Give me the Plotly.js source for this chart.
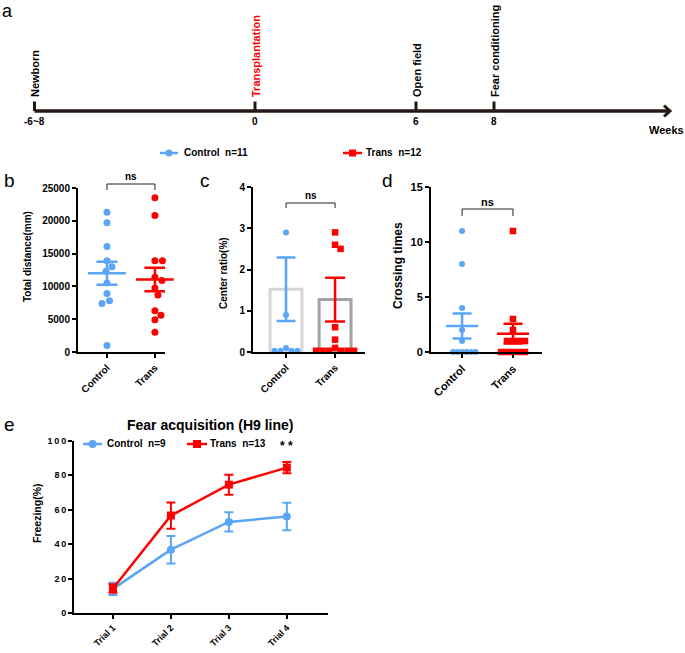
<!DOCTYPE html>
<html><head><meta charset="utf-8">
<script src="https://cdn.plot.ly/plotly-3.0.1.min.js"></script>
<style>html,body{margin:0;padding:0;background:#fff}#chart{width:685px;height:653px}</style>
</head><body><div id="chart"></div>
<script>
// ---------------- DATA ----------------
const groups = ['Control', 'Trans'];
const topLegend = ['Control\u00a0\u00a0n=11', 'Trans\u00a0\u00a0n=12'];
const distControl = [21300, 19700, 16100, 13900, 13000, 12300, 10500, 8900, 7800, 7400, 1000];
const distTrans = [23500, 20800, 13900, 13900, 11400, 10900, 9750, 8700, 6300, 5600, 4900, 3000];
const centerControl = [2.9, 0.9, 0.1, 0.03, 0.03, 0.03, 0.03];
const centerTrans = [2.9, 2.6, 2.5, 0.6, 0.3, 0.1, 0.03, 0.03, 0.03, 0.03, 0.03, 0.03];
const centerMean = [1.52, 1.27];
const centerSem = [0.77, 0.53];
const crossControl = [11, 8, 4, 2, 1, 0, 0, 0, 0, 0, 0];
const crossTrans = [11, 3, 2, 1, 1, 1, 1, 0, 0, 0, 0, 0];
const trials = ['Trial 1', 'Trial 2', 'Trial 3', 'Trial 4'];
const fearControl = [14.0, 36.7, 52.8, 55.9];
const fearControlSem = [3.5, 8.0, 5.6, 8.0];
const fearTrans = [14.2, 56.5, 74.4, 84.3];
const fearTransSem = [2.5, 7.6, 5.8, 3.3];
const fearLegend = ['Control\u00a0\u00a0n=9', 'Trans\u00a0\u00a0n=13'];
const timelineWeeks = ['-6~8', '0', '6', '8'];
const timelineEvents = ['Newborn', 'Transplantation', 'Open field', 'Fear conditioning'];

// ---------------- LAYOUT CONSTANTS ----------------
const W = 685, H = 653;
const fx = p => p / W, fy = p => 1 - p / H;
const FONT = 'Liberation Sans, Arial, Helvetica, sans-serif';
const BLUE = '#5aa5f5', RED = '#ff0000', INK = '#000000';
const f = (size, color, weight) => ({family: FONT, size: size, color: color || INK, weight: weight || 'bold'});

const P = {
  b: {x0: 78, x1: 165, y0: 352, y1: 188, xr: [-0.604, 1.21], yr: [0, 25000]},
  c: {x0: 253, x1: 365, y0: 352, y1: 187, xr: [-0.673, 1.61], yr: [0, 4]},
  d: {x0: 431, x1: 542, y0: 352, y1: 187, xr: [-0.61, 1.57], yr: [0, 15]},
  e: {x0: 74, x1: 328, y0: 613, y1: 440.5, xr: [-0.672, 3.71], yr: [0, 100]}
};
const catPx = (p, v) => p.x0 + (v - p.xr[0]) / (p.xr[1] - p.xr[0]) * (p.x1 - p.x0);
const yPerPx = p => (p.y0 - p.y1) / (p.yr[1] - p.yr[0]);
const xUnitPerPx = p => (p.xr[1] - p.xr[0]) / (p.x1 - p.x0);

// simple beeswarm: horizontal pixel offsets so markers do not overlap
function swarm(vals, pxPerUnit, d) {
  const order = vals.map((v, i) => i).sort((a, b) => vals[b] - vals[a]);
  const placed = [], off = new Array(vals.length).fill(0);
  order.forEach(i => {
    const y = vals[i] * pxPerUnit;
    let best = 0;
    for (let k = 0; k < 600; k++) {
      const cand = (k % 2 === 0 ? -1 : 1) * Math.ceil(k / 2) * 0.5;
      if (placed.every(q => (q.x - cand) ** 2 + (q.y - y) ** 2 >= d * d - 0.01)) { best = cand; break; }
    }
    off[i] = best; placed.push({x: best, y: y});
  });
  return off;
}
const mean = a => a.reduce((s, v) => s + v, 0) / a.length;
const sem = a => { const m = mean(a); return Math.sqrt(a.reduce((s, v) => s + (v - m) ** 2, 0) / (a.length - 1)) / Math.sqrt(a.length); };

function pointTrace(p, vals, gi, color, symbol, size, d, xa, ya) {
  const off = swarm(vals, yPerPx(p), d);
  return {type: 'scatter', mode: 'markers', x: vals.map((v, i) => gi + off[i] * xUnitPerPx(p)), y: vals,
    marker: {color: color, size: size, symbol: symbol, line: {width: 0}}, xaxis: xa, yaxis: ya,
    cliponaxis: false, hoverinfo: 'skip', showlegend: false};
}
function meanTrace(gi, m, s, color, lineSize, capW, xa, ya) {
  return {type: 'scatter', mode: 'markers', x: [gi], y: [m],
    marker: {symbol: 'line-ew', size: lineSize, color: color, line: {color: color, width: 2.5}},
    error_y: {type: 'data', array: [s], color: color, thickness: 2.5, width: capW},
    xaxis: xa, yaxis: ya, cliponaxis: false, hoverinfo: 'skip', showlegend: false};
}

const traces = [];
// panel b
traces.push(pointTrace(P.b, distControl, 0, BLUE, 'circle', 7, 7.5, 'x', 'y'));
traces.push(pointTrace(P.b, distTrans, 1, RED, 'circle', 7, 7.5, 'x', 'y'));
traces.push(meanTrace(0, mean(distControl), sem(distControl), BLUE, 27, 10.5, 'x', 'y'));
traces.push(meanTrace(1, mean(distTrans), sem(distTrans), RED, 27, 10.5, 'x', 'y'));
// panel c
traces.push({type: 'bar', x: [0, 1], y: centerMean, width: 0.65, xaxis: 'x2', yaxis: 'y2',
  marker: {color: 'rgba(255,255,255,0)', line: {color: ['#d6d6d6', '#a3a3a3'], width: 3}},
  hoverinfo: 'skip', showlegend: false});
traces.push(pointTrace(P.c, centerControl, 0, BLUE, 'circle', 6, 6, 'x2', 'y2'));
traces.push(pointTrace(P.c, centerTrans, 1, RED, 'square', 6.5, 6.5, 'x2', 'y2'));
traces.push(meanTrace(0, centerMean[0], centerSem[0], BLUE, 1, 9.5, 'x2', 'y2'));
traces.push(meanTrace(1, centerMean[1], centerSem[1], RED, 1, 10, 'x2', 'y2'));
// panel d
traces.push(pointTrace(P.d, crossControl, 0, BLUE, 'circle', 6, 4.5, 'x3', 'y3'));
traces.push(pointTrace(P.d, crossTrans, 1, RED, 'square', 6.5, 6, 'x3', 'y3'));
traces.push(meanTrace(0, mean(crossControl), sem(crossControl), BLUE, 23, 9.5, 'x3', 'y3'));
traces.push(meanTrace(1, mean(crossTrans), sem(crossTrans), RED, 23, 9.5, 'x3', 'y3'));
// panel e
const trialIdx = trials.map((t, i) => i);
traces.push({type: 'scatter', mode: 'lines+markers', x: trialIdx, y: fearControl, xaxis: 'x4', yaxis: 'y4',
  line: {color: BLUE, width: 2.5}, marker: {color: BLUE, size: 8, symbol: 'circle'},
  error_y: {type: 'data', array: fearControlSem, color: BLUE, thickness: 2, width: 4.5},
  cliponaxis: false, hoverinfo: 'skip', showlegend: false});
traces.push({type: 'scatter', mode: 'lines+markers', x: trialIdx, y: fearTrans, xaxis: 'x4', yaxis: 'y4',
  line: {color: RED, width: 2.5}, marker: {color: RED, size: 8, symbol: 'square'},
  error_y: {type: 'data', array: fearTransSem, color: RED, thickness: 2, width: 4.5},
  cliponaxis: false, hoverinfo: 'skip', showlegend: false});

function xAx(p, anchor, tickvals, ticktext, fs) {
  return {domain: [fx(p.x0), fx(p.x1)], range: p.xr, anchor: anchor, tickmode: 'array', tickvals: tickvals, ticktext: ticktext,
    tickangle: -45, showline: true, linewidth: 2, linecolor: INK, ticks: 'outside', ticklen: 4, tickwidth: 2, tickcolor: INK,
    tickfont: f(fs), showgrid: false, zeroline: false, fixedrange: true, automargin: false};
}
function yAx(p, anchor, dtick, fs, extra) {
  return Object.assign({domain: [fy(p.y0), fy(p.y1)], range: p.yr, anchor: anchor, dtick: dtick, tickformat: 'd',
    showline: true, linewidth: 2, linecolor: INK, ticks: 'outside', ticklen: 4, tickwidth: 2, tickcolor: INK,
    tickfont: f(fs), showgrid: false, zeroline: false, fixedrange: true, automargin: false}, extra || {});
}

const shapes = [], annotations = [];
const ann = (x, y, text, font, o) => annotations.push(Object.assign({xref: 'paper', yref: 'paper', x: fx(x), y: fy(y), text: text,
  font: font, showarrow: false, xanchor: 'center', yanchor: 'middle', borderpad: 0}, o || {}));
const line = (x0, y0, x1, y1, color, w) => shapes.push({type: 'line', xref: 'paper', yref: 'paper',
  x0: fx(x0), y0: fy(y0), x1: fx(x1), y1: fy(y1), line: {color: color, width: w}});

// panel letters
ann(1, 0, 'a', f(18, INK, 'normal'), {xanchor: 'left', yanchor: 'top'});
[['b', 3, 180], ['c', 199, 180], ['d', 381, 181], ['e', 3, 424]].forEach(l =>
  ann(l[1], l[2], l[0], f(19, INK, 'normal'), {xanchor: 'left'}));

// panel a timeline
const tlX = [34.5, 255, 416, 494];
const TL = '#231815';
line(tlX[0], 111, 669, 111, TL, 3.3);
shapes.push({type: 'path', xref: 'paper', yref: 'paper',
  path: `M ${fx(664)} ${fy(105.5)} L ${fx(670)} ${fy(111)} L ${fx(664)} ${fy(116.5)}`, line: {color: TL, width: 3}});
timelineWeeks.forEach((w, i) => {
  line(tlX[i], 101.5, tlX[i], 111, TL, 3);
  ann(tlX[i], 121, w, f(10));
  ann(tlX[i] + 1, 98, timelineEvents[i], f(11, i === 1 ? RED : INK), {textangle: -90, yanchor: 'bottom'});
});
ann(666, 130, 'Weeks', f(11));

// top legend
line(160, 153, 178, 153, BLUE, 2.5);
shapes.push({type: 'circle', xref: 'paper', yref: 'paper', x0: fx(165.5), x1: fx(172.5), y0: fy(156.5), y1: fy(149.5), fillcolor: BLUE, line: {width: 0}});
ann(183, 153, topLegend[0], f(10), {xanchor: 'left'});
line(343, 153, 362, 153, RED, 2.5);
shapes.push({type: 'rect', xref: 'paper', yref: 'paper', x0: fx(349), x1: fx(356), y0: fy(156.5), y1: fy(149.5), fillcolor: RED, line: {width: 0}});
ann(365, 153, topLegend[1], f(10), {xanchor: 'left'});

// significance brackets
function bracket(p, yTop, yBot, yText, fs) {
  const a = catPx(p, 0), b = catPx(p, 1);
  shapes.push({type: 'path', xref: 'paper', yref: 'paper',
    path: `M ${fx(a)} ${fy(yBot)} L ${fx(a)} ${fy(yTop)} L ${fx(b)} ${fy(yTop)} L ${fx(b)} ${fy(yBot)}`, line: {color: '#222', width: 1}});
  ann((a + b) / 2, yText, 'ns', f(fs));
}
bracket(P.b, 184, 190, 176, 10);
bracket(P.c, 203, 208, 196, 10);
bracket(P.d, 209, 216, 202, 11);

// axis titles
ann(27, 257, 'Total distance(mm)', f(10), {textangle: -90});
ann(223, 273, 'Center ratio(%)', f(10), {textangle: -90});
ann(398, 266, 'Crossing times', f(12), {textangle: -90});
ann(37, 513, 'Freezing(%)', f(10.5), {textangle: -90});

// panel e title, legend, significance
ann(210, 425, 'Fear acquisition (H9 line)', f(14));
line(83, 444, 102, 444, BLUE, 2.5);
shapes.push({type: 'circle', xref: 'paper', yref: 'paper', x0: fx(88.5), x1: fx(96.5), y0: fy(448), y1: fy(440), fillcolor: BLUE, line: {width: 0}});
ann(106, 444, fearLegend[0], f(10), {xanchor: 'left'});
line(187, 444, 207, 444, RED, 2.5);
shapes.push({type: 'rect', xref: 'paper', yref: 'paper', x0: fx(193), x1: fx(201), y0: fy(448), y1: fy(440), fillcolor: RED, line: {width: 0}});
ann(209, 444, fearLegend[1], f(10), {xanchor: 'left'});
ann(catPx(P.e, 3), 446, '* *', f(12));

const thin = '\u2009';
const eTicks = [0, 20, 40, 60, 80, 100];
const layout = {
  width: W, height: H, margin: {l: 0, r: 0, t: 0, b: 0}, paper_bgcolor: '#fff', plot_bgcolor: 'rgba(0,0,0,0)',
  showlegend: false, font: {family: FONT}, bargap: 0,
  xaxis: xAx(P.b, 'y', [0, 1], groups, 10), yaxis: yAx(P.b, 'x', 5000, 10),
  xaxis2: xAx(P.c, 'y2', [0, 1], groups, 10), yaxis2: yAx(P.c, 'x2', 1, 10),
  xaxis3: xAx(P.d, 'y3', [0, 1], groups, 11), yaxis3: yAx(P.d, 'x3', 5, 11),
  xaxis4: xAx(P.e, 'y4', trialIdx, trials, 9),
  yaxis4: yAx(P.e, 'x4', 20, 9, {tickmode: 'array', tickvals: eTicks, ticktext: eTicks.map(v => String(v).split('').join(thin))}),
  shapes: shapes, annotations: annotations
};
Plotly.newPlot('chart', traces, layout, {staticPlot: true, displayModeBar: false});
</script></body></html>
